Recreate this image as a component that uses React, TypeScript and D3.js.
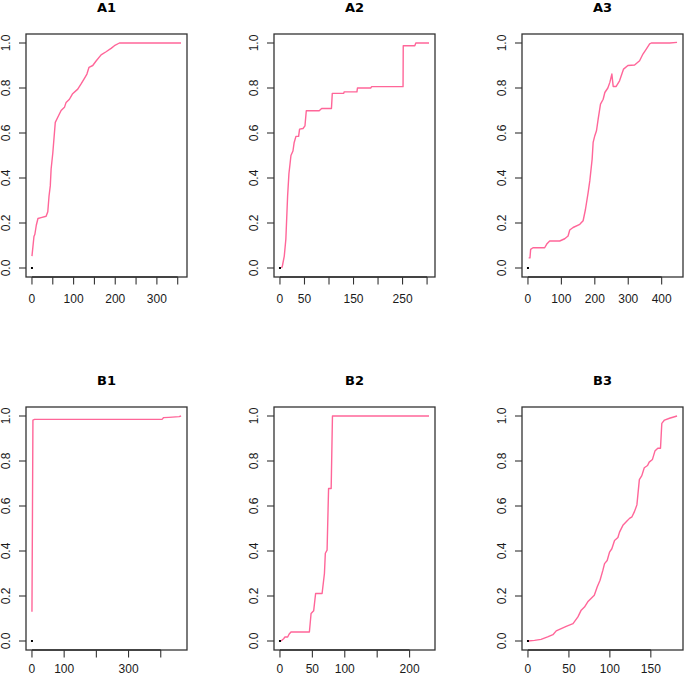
import React from "react";
import * as d3 from "d3";

// ---------- data ----------
const titles = ["A1", "A2", "A3", "B1", "B2", "B3"];

const a1X = [0, 4.8, 7, 10.4, 14.4, 22, 34, 38, 41, 44, 46, 50, 56, 62, 70, 78, 82, 90, 97, 110, 118, 126, 132, 137, 146, 154, 166, 178, 190, 198, 210, 358];
const a1Y = [0.053, 0.14, 0.15, 0.19, 0.22, 0.224, 0.23, 0.25, 0.32, 0.365, 0.44, 0.51, 0.647, 0.67, 0.70, 0.714, 0.736, 0.75, 0.773, 0.795, 0.818, 0.843, 0.862, 0.892, 0.90, 0.92, 0.947, 0.961, 0.976, 0.988, 1.0, 1.0];

const a2X = [3.4, 5, 8.8, 12, 15.6, 18.3, 20.4, 22.4, 26.5, 29, 32.6, 38, 40, 47, 51, 53.7, 80, 85, 105, 106.7, 130, 131, 157, 158, 185, 187, 251, 251.4, 275, 277, 304];
const a2Y = [0, 0.01, 0.053, 0.128, 0.32, 0.42, 0.46, 0.5, 0.52, 0.558, 0.585, 0.585, 0.617, 0.62, 0.632, 0.699, 0.699, 0.709, 0.709, 0.776, 0.776, 0.783, 0.783, 0.80, 0.80, 0.806, 0.806, 0.988, 0.988, 1.0, 1.0];

const a3X = [2, 6, 8, 15, 50, 57, 65, 95, 110, 120, 125, 135, 155, 165, 172, 180, 185, 192, 195, 200, 205, 210, 217, 225, 230, 239, 245, 251, 255, 264, 274, 286, 299, 319, 334, 344, 354, 364, 369, 424, 446];
const a3Y = [0.045, 0.045, 0.083, 0.09, 0.09, 0.108, 0.12, 0.12, 0.13, 0.142, 0.169, 0.18, 0.194, 0.21, 0.26, 0.335, 0.387, 0.484, 0.558, 0.588, 0.61, 0.662, 0.728, 0.75, 0.78, 0.80, 0.825, 0.862, 0.807, 0.807, 0.832, 0.884, 0.9, 0.902, 0.921, 0.951, 0.973, 0.996, 1.0, 1.0, 1.003];

const b1X = [0, 3, 8, 404, 409, 425, 457, 463];
const b1Y = [0.13, 0.982, 0.985, 0.985, 0.993, 0.994, 0.997, 1.0];

const b2X = [1.5, 5.7, 7.7, 11.9, 14, 17, 45.4, 48, 52, 55, 65, 68.6, 70, 72.7, 75, 79, 81, 230];
const b2Y = [0, 0.01, 0.018, 0.018, 0.03, 0.04, 0.04, 0.122, 0.134, 0.211, 0.211, 0.3, 0.39, 0.404, 0.678, 0.678, 1.0, 1.0];

const b3X = [0, 8, 16, 24, 30.5, 34.5, 40.6, 46.7, 55, 61, 65, 69, 73, 77, 81, 84.5, 88, 91.5, 93.5, 96.7, 99.6, 102.4, 105.7, 109.8, 111.8, 115.9, 120, 124, 127, 130, 133, 136, 139, 142, 146, 148, 152, 155, 158.5, 161.8, 163.4, 166.7, 172.8, 182];
const b3Y = [0, 0.003, 0.007, 0.018, 0.028, 0.045, 0.055, 0.065, 0.077, 0.107, 0.137, 0.151, 0.174, 0.189, 0.203, 0.24, 0.27, 0.315, 0.344, 0.358, 0.395, 0.41, 0.447, 0.46, 0.484, 0.514, 0.53, 0.545, 0.552, 0.575, 0.605, 0.717, 0.735, 0.77, 0.78, 0.795, 0.807, 0.844, 0.857, 0.857, 0.967, 0.982, 0.99, 1.0];

const seriesX = [a1X, a2X, a3X, b1X, b2X, b3X];
const seriesY = [a1Y, a2Y, a3Y, b1Y, b2Y, b3Y];
const xMax = [358, 304, 446, 463, 230, 182];

const xTicks = [
  [0, 50, 100, 150, 200, 250, 300, 350],
  [0, 50, 100, 150, 200, 250, 300],
  [0, 100, 200, 300, 400],
  [0, 100, 200, 300, 400],
  [0, 50, 100, 150, 200],
  [0, 50, 100, 150],
];
const xLabels = [
  [0, 100, 200, 300],
  [0, 50, 150, 250],
  [0, 100, 200, 300, 400],
  [0, 100, 300],
  [0, 50, 100, 200],
  [0, 50, 100, 150],
];
const yTicks = [0, 0.2, 0.4, 0.6, 0.8, 1.0];

// ---------- layout ----------
const W = 685;
const H = 676;
const colLeft = [26, 274, 522];
const boxW = 161;
const rowTop = [34, 407];
const boxH = 243;
const labelOffset = [26, 23];
const lineColor = "#ff6699";
const axisColor = "#333";
const font = "'Liberation Sans', Arial, sans-serif";
const titleFont = "'DejaVu Sans', sans-serif";

function Panel({ i }: { i: number }) {
  const row = Math.floor(i / 3);
  const left = colLeft[i % 3];
  const top = rowTop[row];
  const right = left + boxW;
  const bottom = top + boxH;
  const pad = xMax[i] * 0.04;
  const x = d3.scaleLinear().domain([-pad, xMax[i] + pad]).range([left, right]);
  const y = d3.scaleLinear().domain([-0.04, 1.04]).range([bottom, top]);
  const pts: [number, number][] = seriesX[i].map((v, k) => [v, seriesY[i][k]]);
  const line = d3
    .line<[number, number]>()
    .x((d) => x(d[0]))
    .y((d) => y(d[1]));
  const xt = xTicks[i];
  return (
    <g>
      <text
        x={(left + right) / 2}
        y={top - 22}
        textAnchor="middle"
        fontFamily={titleFont}
        fontWeight="bold"
        fontSize={13}
        fill="#000"
      >
        {titles[i]}
      </text>
      <rect x={left} y={top} width={boxW} height={boxH} fill="none" stroke={axisColor} strokeWidth={1.3} />
      {/* x axis */}
      <line x1={x(xt[0])} x2={x(xt[xt.length - 1])} y1={bottom} y2={bottom} stroke={axisColor} strokeWidth={1.3} />
      {xt.map((t) => (
        <line key={"xt" + t} x1={x(t)} x2={x(t)} y1={bottom} y2={bottom + 7.5} stroke={axisColor} strokeWidth={1.1} />
      ))}
      {xLabels[i].map((t) => (
        <text
          key={"xl" + t}
          x={x(t)}
          y={bottom + labelOffset[row]}
          textAnchor="middle"
          fontFamily={font}
          fontSize={12}
          fill="#1a1a1a"
        >
          {t}
        </text>
      ))}
      {/* y axis */}
      {yTicks.map((t) => (
        <g key={"yt" + t}>
          <line x1={left - 7} x2={left} y1={y(t)} y2={y(t)} stroke={axisColor} strokeWidth={1.1} />
          <text
            transform={`translate(${left - 16},${y(t)}) rotate(-90)`}
            textAnchor="middle"
            fontFamily={font}
            fontSize={12}
            fill="#1a1a1a"
          >
            {t.toFixed(1)}
          </text>
        </g>
      ))}
      <path d={line(pts) || ""} fill="none" stroke={lineColor} strokeWidth={1.4} strokeLinejoin="round" />
      <rect x={x(0) - 1} y={y(0) - 1} width={2} height={2} fill="#000" />
    </g>
  );
}

export default function App() {
  return (
    <svg
      width={W}
      height={H}
      viewBox={`0 0 ${W} ${H}`}
      style={{ position: "absolute", left: 0, top: 0, background: "#fff" }}
    >
      <rect x={0} y={0} width={W} height={H} fill="#fff" />
      {titles.map((_, i) => (
        <Panel key={i} i={i} />
      ))}
    </svg>
  );
}
